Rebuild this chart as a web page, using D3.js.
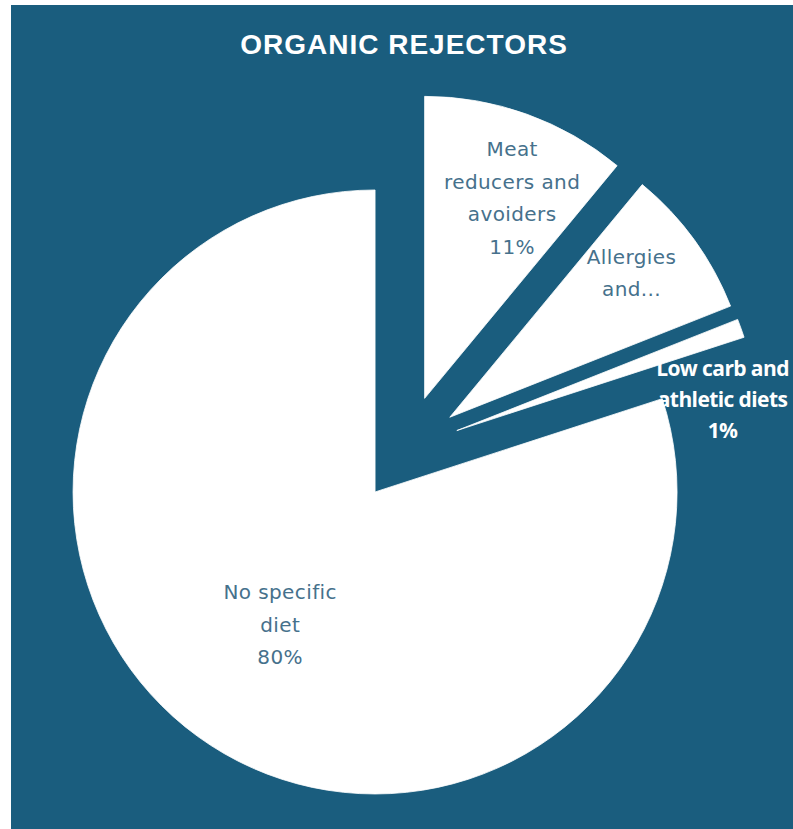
<!DOCTYPE html>
<html>
<head>
<meta charset="utf-8">
<script src="https://cdn.jsdelivr.net/npm/d3@7"></script>
<style>
  html, body { margin: 0; padding: 0; background: #ffffff; }
  svg { display: block; }
</style>
</head>
<body>
<svg id="chart" width="793" height="829"></svg>
<script>
// Diet segments among organic rejectors (share of respondents, %)
const categories = [
  "Meat reducers and avoiders",
  "Allergies and intolerances",
  "Low carb and athletic diets",
  "No specific diet"
];
const values = [11, 8, 1, 80];
// Label text as shown on each slice (long names are cut short)
const labelLines = [
  ["Meat", "reducers and", "avoiders", "11%"],
  ["Allergies", "and..."],
  ["Low carb and", "athletic diets", "1%"],
  ["No specific", "diet", "80%"]
];

// Layout
const W = 793, H = 829;
const cx = 406.5, cy = 448.7;      // pie centre
const R = 302;                      // pie radius
const explode = 53.5;               // distance every slice is pulled out
// Label placement relative to each slice's apex: [fraction of radius, angle in degrees]
const labelPolar = [[0.724, 23.6], [0.768, 51.6], [0.886, 83.2], [0.541, 215.5]];
const insideLabel = [true, true, false, true];

const bg = "#1a5d7e";
const svg = d3.select("#chart");

svg.append("rect")
  .attr("x", 11).attr("y", 5)
  .attr("width", W - 11).attr("height", H - 5)
  .attr("fill", bg);

svg.append("text")
  .attr("x", 404).attr("y", 44)
  .attr("text-anchor", "middle")
  .attr("dominant-baseline", "central")
  .attr("fill", "#ffffff")
  .attr("font-family", "Liberation Sans, Arial, sans-serif")
  .attr("font-weight", "bold")
  .attr("font-size", 28)
  .attr("letter-spacing", 1)
  .text("ORGANIC REJECTORS");

const data = categories.map((c, i) => ({ name: c, value: values[i], i }));
const pie = d3.pie().value(d => d.value).sort(null).startAngle(0).endAngle(2 * Math.PI);
const arcs = pie(data);
const arc = d3.arc().innerRadius(0).outerRadius(R);

const g = svg.append("g").attr("transform", `translate(${cx},${cy})`);

// Apex of each exploded slice
arcs.forEach(a => {
  const mid = (a.startAngle + a.endAngle) / 2;
  a.ox = explode * Math.sin(mid);
  a.oy = -explode * Math.cos(mid);
});

g.selectAll("path.slice")
  .data(arcs)
  .join("path")
  .attr("class", "slice")
  .attr("transform", a => `translate(${a.ox},${a.oy})`)
  .attr("d", arc)
  .attr("fill", "#ffffff")
  .attr("stroke", "#ffffff")
  .attr("stroke-width", 0.8);

// Data labels
arcs.forEach((a, k) => {
  const [frac, deg] = labelPolar[k];
  const t = deg * Math.PI / 180;
  const lx = a.ox + frac * R * Math.sin(t);
  const ly = a.oy - frac * R * Math.cos(t);
  const lines = labelLines[k];
  const inside = insideLabel[k];
  const lineH = inside ? 32.5 : 31;
  const txt = g.append("text")
    .attr("text-anchor", "middle")
    .attr("font-family", inside ? "'DejaVu Sans', sans-serif" : "'Open Sans', sans-serif")
    .attr("font-size", inside ? 20 : 21)
    .attr("font-weight", inside ? "normal" : "bold")
    .attr("letter-spacing", inside ? 0.4 : -0.6)
    .attr("fill", inside ? "#46718c" : "#ffffff");
  lines.forEach((ln, j) => {
    txt.append("tspan")
      .attr("x", lx)
      .attr("y", ly + (j - (lines.length - 1) / 2) * lineH)
      .attr("dominant-baseline", "central")
      .text(ln);
  });
});
</script>
</body>
</html>
